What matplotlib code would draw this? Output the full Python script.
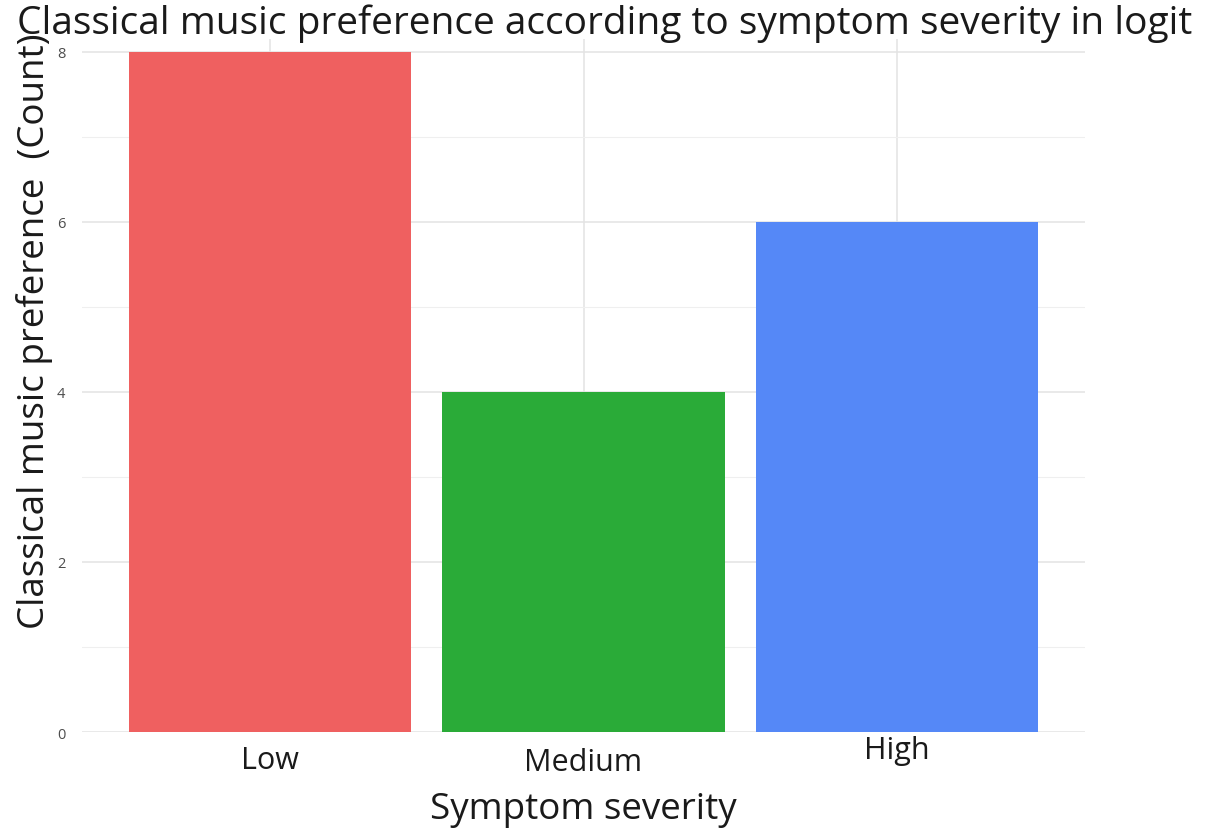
import matplotlib
matplotlib.use("Agg")
import matplotlib.pyplot as plt
import matplotlib.transforms as mtransforms

categories = ["Low", "Medium", "High"]
counts = [8, 4, 6]
bar_colors = ["#EF6060", "#2AAB38", "#5588F7"]
y_ticks = [0, 2, 4, 6, 8]
y_minor = [1, 3, 5, 7]

plt.rcParams['font.family'] = ['Open Sans', 'DejaVu Sans']

fig = plt.figure(figsize=(12.1, 8.29), dpi=100)
ax = fig.add_axes([0.0678, 0.1158, 0.8289, 0.8362])

x = list(range(1, len(categories) + 1))
ax.bar(x, counts, width=0.9, color=bar_colors, zorder=2)

ax.set_xlim(0.4, 3.6)
ax.set_ylim(0, 8.15)
ax.set_yticks(y_ticks)
ax.set_yticks(y_minor, minor=True)
ax.set_xticks(x)
ax.set_xticklabels(categories, fontsize=22, color="#1a1a1a")
ax.tick_params(axis="y", which="both", length=0, labelsize=10.5, labelcolor="#4d4d4d", pad=12)
ax.tick_params(axis="x", length=0, pad=8)

# small per-label vertical offsets (pixels, positive = up)
offsets = [-2, -4, 8]
for lab, dy in zip(ax.get_xticklabels(), offsets):
    lab.set_transform(lab.get_transform() +
                      mtransforms.ScaledTranslation(0, dy / 100.0, fig.dpi_scale_trans))

ax.grid(True, which="major", color="#e3e3e3", linewidth=1.1, zorder=0)
ax.grid(True, which="minor", axis="y", color="#efefef", linewidth=0.8, zorder=0)
ax.set_axisbelow(True)
for s in ax.spines.values():
    s.set_visible(False)

ax.set_xlabel("Symptom severity", fontsize=26.5, color="#1a1a1a", labelpad=10)
ax.set_ylabel("Classical music preference  (Count)", fontsize=26.5, color="#1a1a1a")
ax.yaxis.label.set_va("center")
ax.yaxis.set_label_coords(-0.047, 0.58)

fig.suptitle("Classical music preference according to symptom severity in logit",
             fontsize=28, color="#1a1a1a", x=0.5, y=0.995, va="top")

fig.savefig("out.png", dpi=100, facecolor="white")
